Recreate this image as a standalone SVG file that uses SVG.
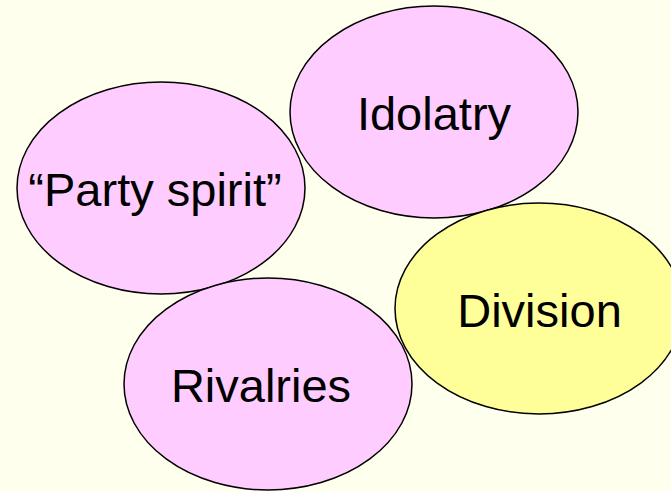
<svg xmlns="http://www.w3.org/2000/svg" width="671" height="491" viewBox="0 0 671 491">
<style>
.pink{fill:#FFCCFF;stroke:#000;stroke-width:1.5}
.yellow{fill:#FFFF99;stroke:#000;stroke-width:1.5}
.lbl{font-family:"Liberation Sans",Arial,sans-serif;font-size:47px;fill:#000;text-anchor:middle}
</style>
<rect width="671" height="491" fill="#FFFFEE"/>
<g id="party-spirit">
<ellipse class="pink" cx="161" cy="188" rx="144" ry="106"/>
<text class="lbl" x="155" y="206">“Party spirit”</text>
</g>
<g id="idolatry">
<ellipse class="pink" cx="434" cy="112" rx="144" ry="106"/>
<text class="lbl" x="434" y="130">Idolatry</text>
</g>
<g id="rivalries">
<ellipse class="pink" cx="268" cy="384" rx="144" ry="106"/>
<text class="lbl" x="261" y="402">Rivalries</text>
</g>
<g id="division">
<ellipse class="yellow" cx="539" cy="308.5" rx="144" ry="105.5"/>
<text class="lbl" x="539.5" y="327">Division</text>
</g>
<g id="connectors"></g>
</svg>
